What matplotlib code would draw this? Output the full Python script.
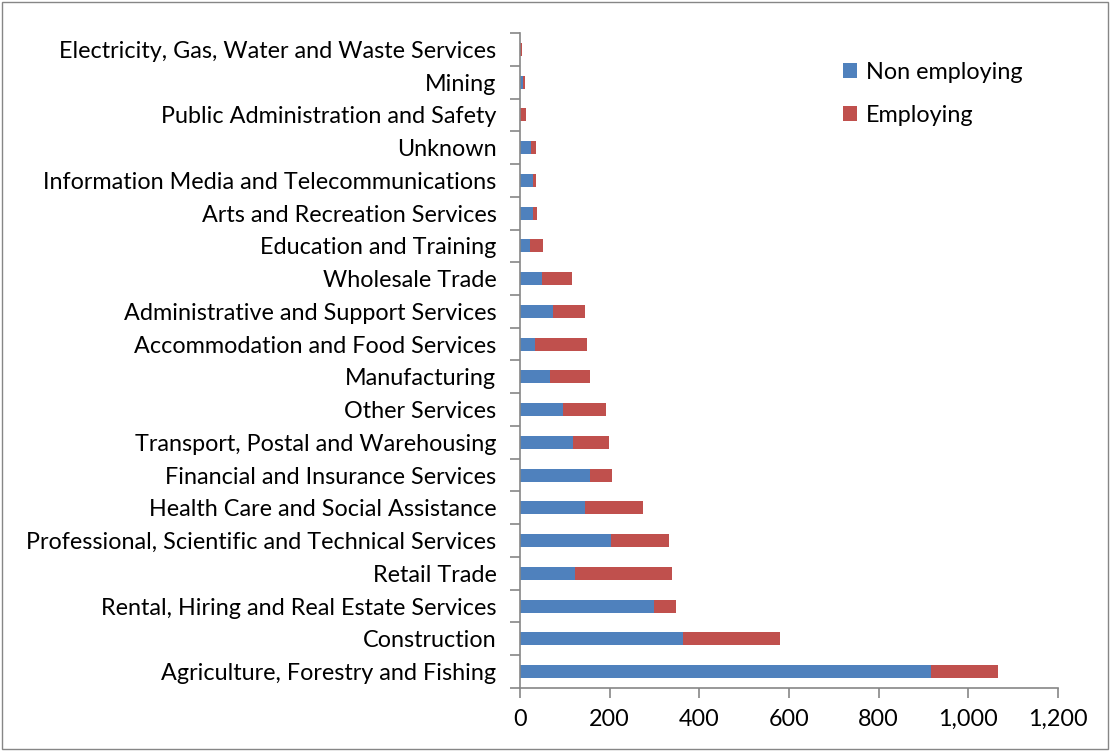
import matplotlib
matplotlib.use("Agg")
import matplotlib.pyplot as plt
from matplotlib.ticker import FuncFormatter, FixedLocator
from matplotlib.patches import Rectangle

categories = [
    "Agriculture, Forestry and Fishing",
    "Construction",
    "Rental, Hiring and Real Estate Services",
    "Retail Trade",
    "Professional, Scientific and Technical Services",
    "Health Care and Social Assistance",
    "Financial and Insurance Services",
    "Transport, Postal and Warehousing",
    "Other Services",
    "Manufacturing",
    "Accommodation and Food Services",
    "Administrative and Support Services",
    "Wholesale Trade",
    "Education and Training",
    "Arts and Recreation Services",
    "Information Media and Telecommunications",
    "Unknown",
    "Public Administration and Safety",
    "Mining",
    "Electricity, Gas, Water and Waste Services",
]
non_employing = [916, 364, 298, 122, 204, 146, 155, 118, 95, 66, 33, 73, 48, 22, 30, 28, 24, 1, 6, 1]
employing = [151, 217, 49, 216, 128, 128, 50, 80, 96, 89, 116, 71, 67, 29, 7, 7, 11, 12, 4, 3]
xticks = [0, 200, 400, 600, 800, 1000, 1200]

plt.rcParams['font.family'] = ['Lato', 'DejaVu Sans']
FS = 16.8
fig = plt.figure(figsize=(11.10, 7.51), dpi=100)
fig.patches.append(Rectangle((0.002, 0.002), 0.996, 0.996, transform=fig.transFigure,
                             fill=False, edgecolor="#868686", linewidth=1.0))
ax = fig.add_axes([0.4685, 0.084, 0.4845, 0.872])

y = list(range(len(categories)))
ax.barh(y, non_employing, height=0.4, color="#4F81BD", label="Non employing")
ax.barh(y, employing, left=non_employing, height=0.4, color="#C0504D", label="Employing")

ax.set_xlim(0, 1200)
ax.set_ylim(-0.5, len(categories) - 0.5)
ax.set_xticks(xticks)
ax.xaxis.set_major_formatter(FuncFormatter(lambda v, p: f"{int(v):,}"))
ax.set_yticks(y)
ax.set_yticklabels(categories)
ax.yaxis.set_minor_locator(FixedLocator([i - 0.5 for i in range(len(categories) + 1)]))
ax.tick_params(axis="y", which="major", length=0, pad=17, labelsize=FS)
ax.tick_params(axis="y", which="minor", length=7, width=1.2, color="#868686", direction="out")
ax.tick_params(axis="x", length=7, width=1.2, color="#868686", direction="out", labelsize=FS, pad=8)

for s in ["top", "right"]:
    ax.spines[s].set_visible(False)
for s in ["left", "bottom"]:
    ax.spines[s].set_color("#868686")
    ax.spines[s].set_linewidth(1.2)

ax.legend(loc="upper left", bbox_to_anchor=(0.561, 0.988), frameon=False, fontsize=FS,
          handlelength=0.6, handleheight=0.6, handletextpad=0.4, labelspacing=0.95,
          borderpad=0.4)

fig.savefig("out.png", dpi=100)
